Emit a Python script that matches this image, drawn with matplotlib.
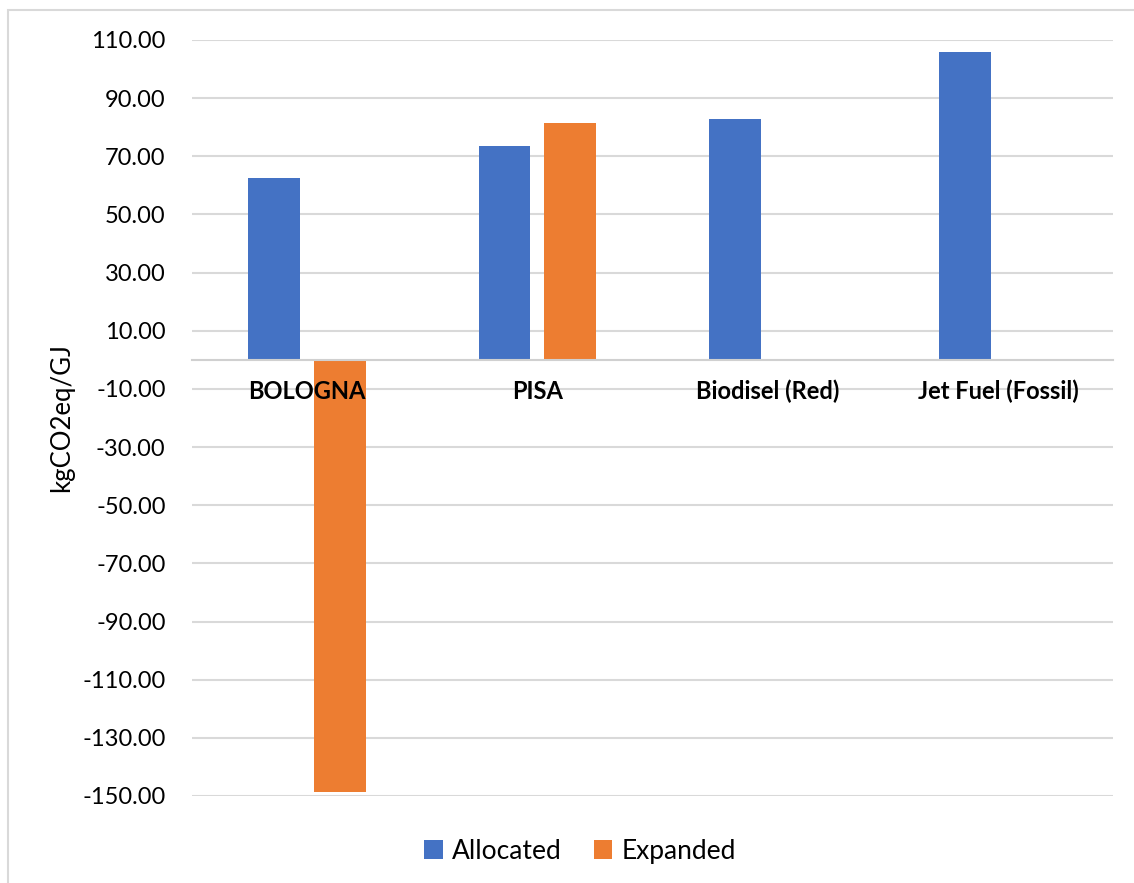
import numpy as np
import matplotlib.pyplot as plt
from matplotlib.patches import Rectangle

categories = ['BOLOGNA', 'PISA', 'Biodisel (Red)', 'Jet Fuel (Fossil)']
allocated = [62.4, 73.4, 82.9, 105.8]
expanded = [-148.6, 81.6, np.nan, np.nan]
yticks = list(range(-150, 111, 20))

plt.rcParams['font.family'] = ['Lato', 'DejaVu Sans']

W, H = 1134, 883
fig = plt.figure(figsize=(W / 100, H / 100), dpi=100)
ax = fig.add_axes([192 / W, 1 - 796 / H, (1113 - 192) / W, (796 - 40) / H])

# light outer frame of the chart area
fig.patches.append(Rectangle((8 / W, -0.1), 1.2, 1 - 10 / H + 0.1,
                             transform=fig.transFigure, fill=False,
                             edgecolor='#d9d9d9', linewidth=1.5))

barWidth = 0.225
gap = 0.06
x = np.arange(len(categories))
off = (barWidth + gap) / 2

ax.bar(x - off, allocated, width=barWidth, color='#4472C4', label='Allocated', zorder=2)
ax.bar(x + off, expanded, width=barWidth, color='#ED7D31', label='Expanded', zorder=2)

ax.set_xlim(-0.5, len(categories) - 0.5)
ax.set_ylim(-150, 110)
ax.set_yticks(yticks)
ax.set_yticklabels([f'{v:.2f}' for v in yticks])
ax.yaxis.grid(True, color='#d9d9d9', linewidth=1.5, zorder=0)
ax.set_axisbelow(True)

for s in ['left', 'right', 'top']:
    ax.spines[s].set_visible(False)
ax.spines['bottom'].set_position(('data', 0))
ax.spines['bottom'].set_color('#d0d0d0')
ax.spines['bottom'].set_linewidth(1.5)

# category names sit just under the zero line, drawn over the bars
ax.set_xticks(x)
ax.set_xticklabels([])
ax.tick_params(axis='x', length=0)
for xi, name in zip(x, categories):
    ax.annotate(name, (xi, 0), xytext=(0, -23), textcoords='offset points',
                ha='center', va='center', fontsize=17, fontweight='bold',
                zorder=5)

ax.tick_params(axis='y', length=0, pad=19, labelsize=17)
ax.set_ylabel('kgCO2eq/GJ', fontsize=18.5, labelpad=6)

ax.legend(loc='center', bbox_to_anchor=((580 - 192) / 921, -0.073),
          ncol=2, frameon=False, fontsize=19, handlelength=0.7, handleheight=0.7,
          handletextpad=0.35, columnspacing=1.2)

fig.savefig('out.png', dpi=100)
